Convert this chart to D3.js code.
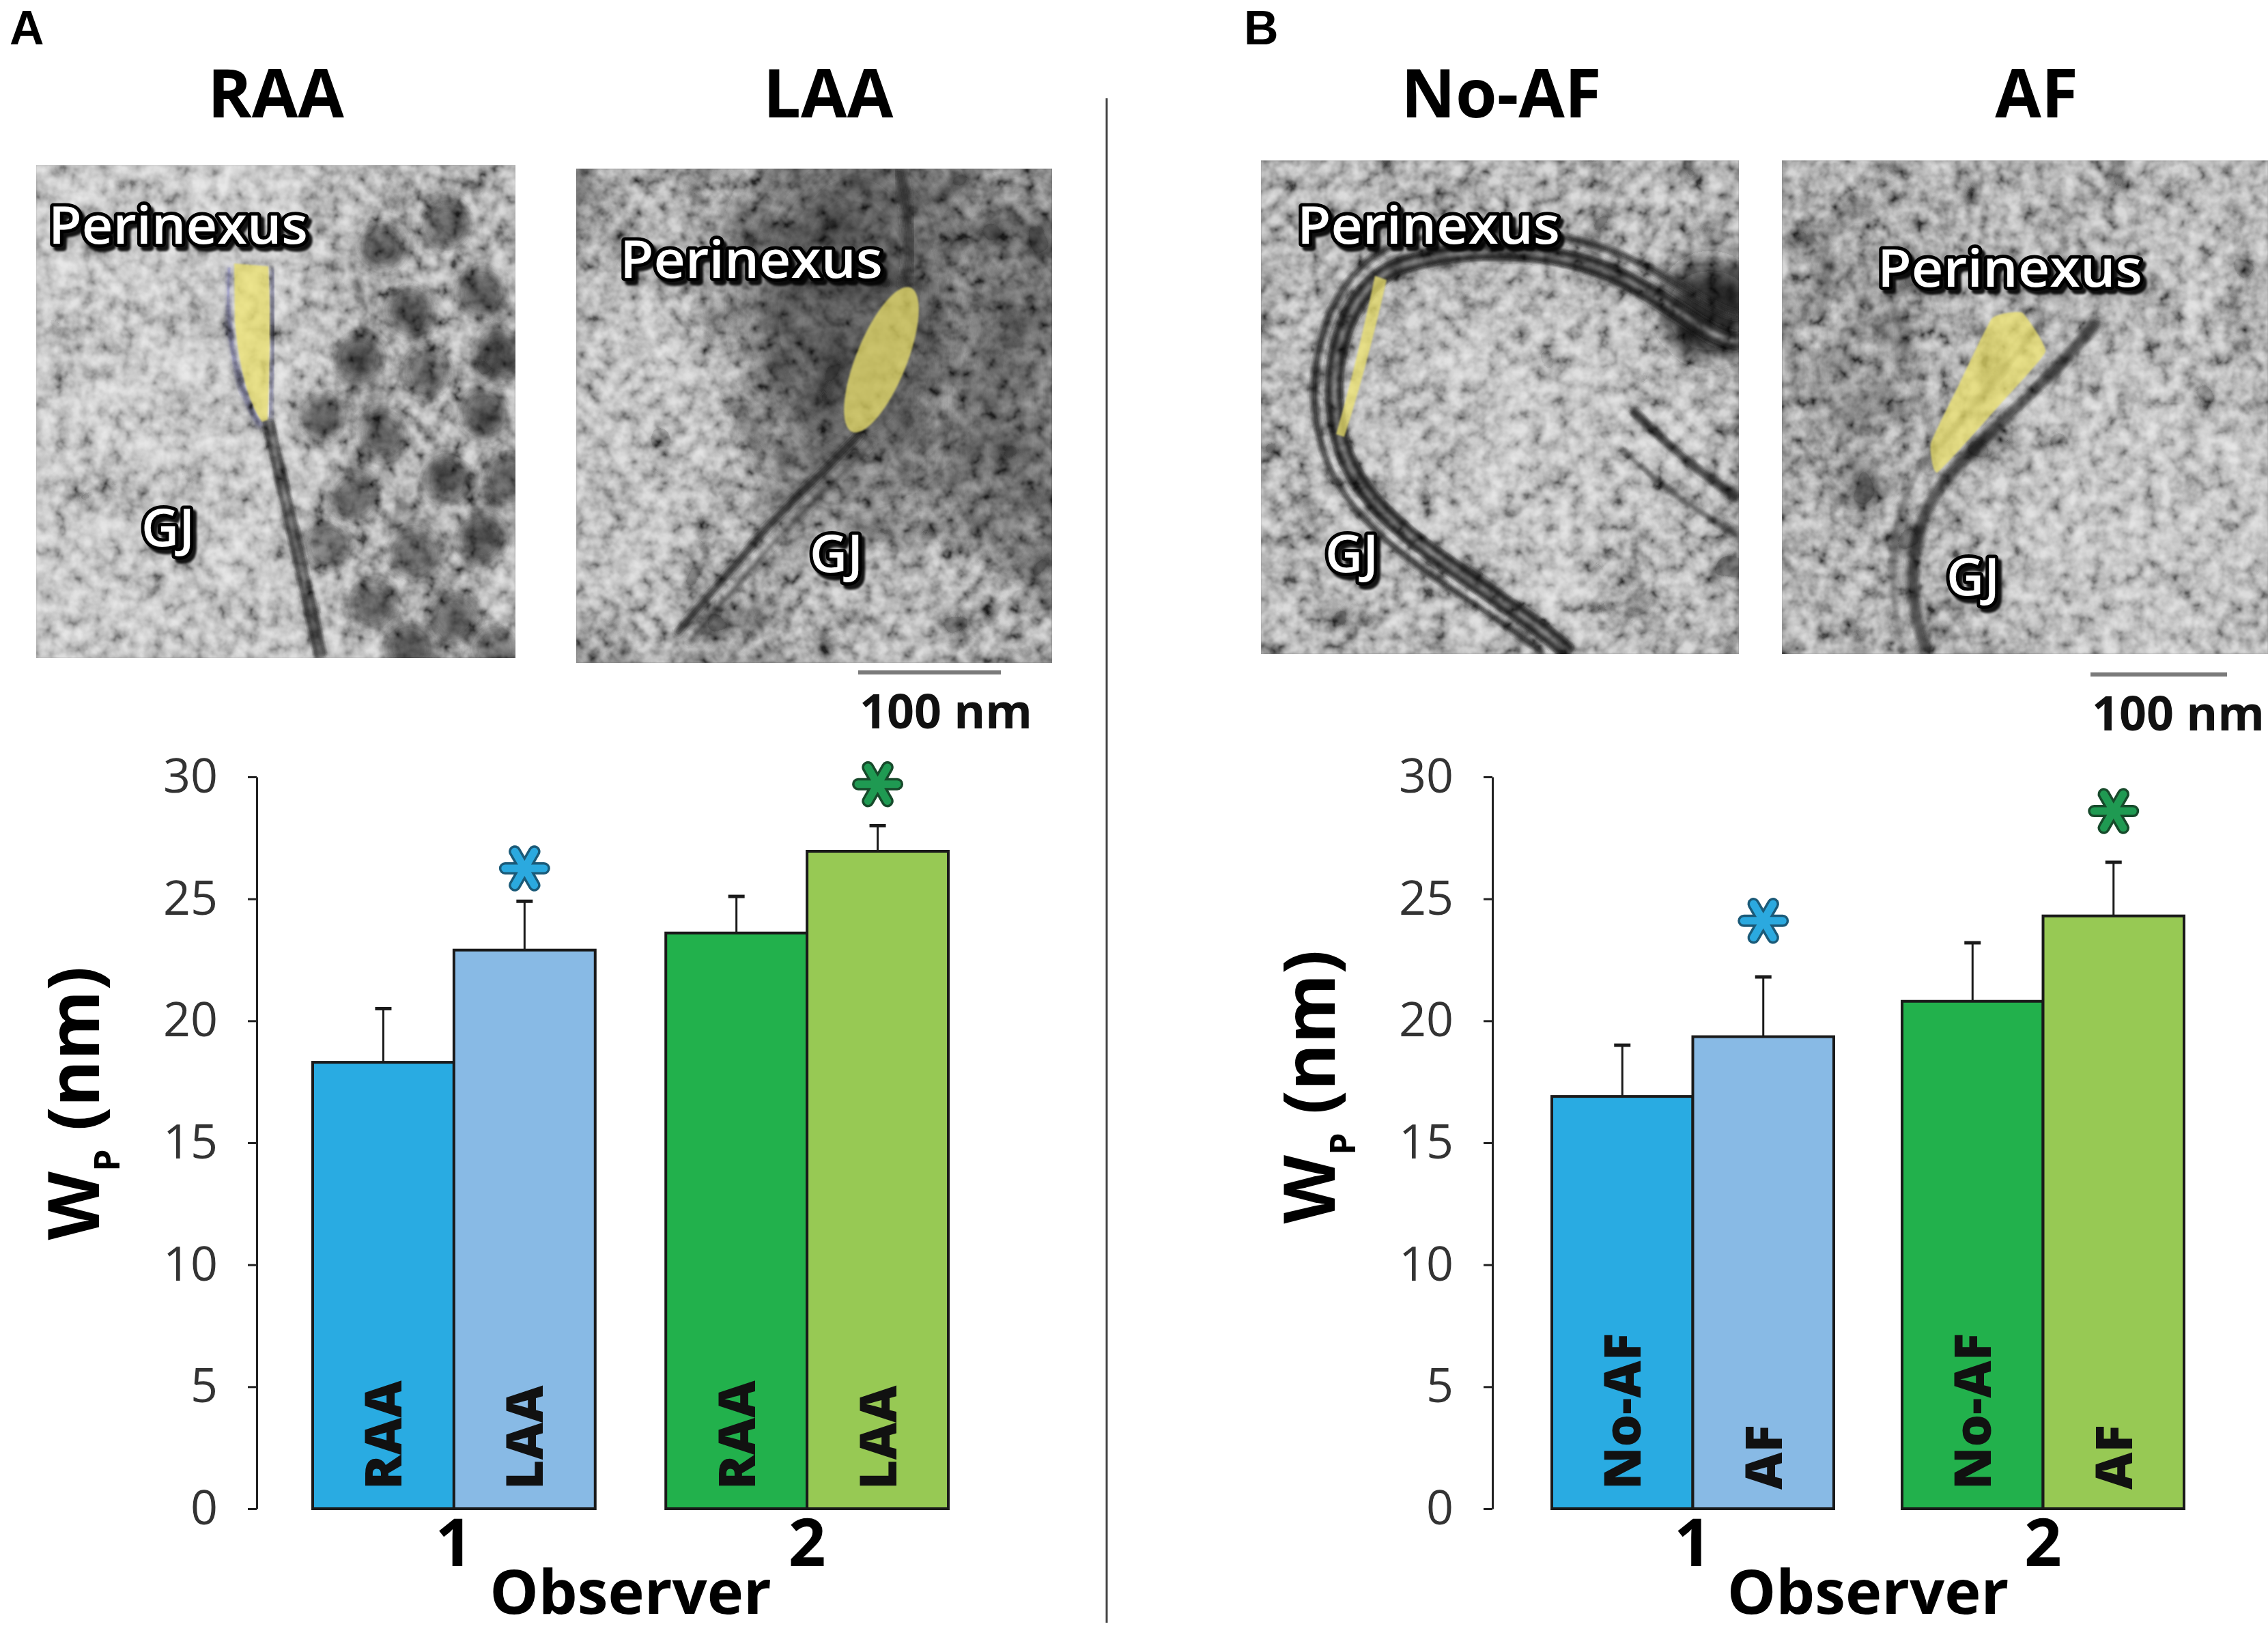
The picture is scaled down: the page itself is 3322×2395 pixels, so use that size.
<!DOCTYPE html>
<html>
<head>
<meta charset="utf-8">
<script src="https://cdn.jsdelivr.net/npm/d3@7"></script>
<style>
html, body { margin: 0; padding: 0; background: #fff; }
svg { display: block; }
</style>
</head>
<body>
<div id="chart"></div>
<script>
// ---- values ----
const observers = ["1", "2"];
const condA = ["RAA", "LAA"];
const meanA = [[18.3, 22.9], [23.6, 26.95]];   // [observer][condition]
const errA = [[2.2, 2.0], [1.5, 1.05]];
const sigA = [26.25, 29.7];                    // asterisk level per observer
const condB = ["No-AF", "AF"];
const meanB = [[16.9, 19.35], [20.8, 24.3]];
const errB = [[2.1, 2.45], [2.4, 2.2]];
const sigB = [24.1, 28.6];
const yTicks = [0, 5, 10, 15, 20, 25, 30];
const barColors = [["#29abe2", "#88bae5"], ["#22b14c", "#97c954"]];
const starColors = [["#2ba9df", "#1b5a78"], ["#1f9a52", "#174a2b"]];

const FONT = "'Open Sans', 'Noto Sans', sans-serif";
const width = 3322, height = 2395;

const svg = d3.select("#chart").append("svg")
    .attr("width", width).attr("height", height)
    .attr("viewBox", [0, 0, width, height]);
const defs = svg.append("defs");

const y = d3.scaleLinear().domain([0, 30]).range([2210, 1138]);

// ---------- micrographs (illustration only) ----------
const micrographs = [
  { x: 53, y: 242, w: 702, h: 722, base: "#a2a2a2", seed: 3,
    shades: [
      { cx: 625, cy: 600, rx: 170, ry: 440, fill: "#646464", op: 0.7, blur: 40 },
      { cx: 160, cy: 720, rx: 90, ry: 70, fill: "#7a7a7a", op: 0.55, blur: 30 },
      { cx: 300, cy: 910, rx: 120, ry: 60, fill: "#858585", op: 0.55, blur: 30 },
      { cx: 120, cy: 420, rx: 70, ry: 110, fill: "#8c8c8c", op: 0.5, blur: 30 }
    ],
    blobs: [[560,360],[655,330],[600,455],[705,430],[525,525],[625,545],[710,605],[560,635],
            [655,705],[520,730],[705,790],[605,810],[545,885],[665,905],[725,950],[470,610],
            [600,950],[480,800],[735,520],[745,700]],
    membranes: [
      { d: "M392,612 C410,700 440,820 470,964", stroke: "#1e1e1e", w: 20 },
      { d: "M392,612 C410,700 440,820 470,964", stroke: "#7a7a7a", w: 4 },
      { d: "M336,388 C330,470 340,560 382,625", stroke: "#3c3c52", w: 9 },
      { d: "M399,392 C400,460 400,540 396,612", stroke: "#3a3a4c", w: 8 }
    ],
    yellow: "M343,386 L393,390 C397,460 395,540 392,615 L384,618 C364,590 350,540 344,470 Z",
    labels: [{ t: "Perinexus", x: 71, y: 357, len: 380 }, { t: "GJ", x: 207, y: 800 }] },
  { x: 844, y: 247, w: 697, h: 724, base: "#5a5a5a", seed: 7,
    shades: [
      { cx: 925, cy: 660, rx: 150, ry: 290, fill: "#9c9c9c", op: 0.9, blur: 50 },
      { cx: 1330, cy: 890, rx: 230, ry: 100, fill: "#8e8e8e", op: 0.8, blur: 50 },
      { cx: 960, cy: 300, rx: 110, ry: 60, fill: "#888888", op: 0.7, blur: 40 },
      { cx: 1250, cy: 450, rx: 150, ry: 240, fill: "#303030", op: 0.8, blur: 45 },
      { cx: 1480, cy: 600, rx: 80, ry: 300, fill: "#3e3e3e", op: 0.7, blur: 40 }
    ],
    blobs: [],
    membranes: [
      { d: "M1262,632 C1210,690 1150,740 1100,800 S1030,880 990,930", stroke: "#1e1e1e", w: 11 },
      { d: "M1280,645 C1228,703 1168,753 1118,813 S1048,893 1008,943", stroke: "#333333", w: 7 },
      { d: "M1325,420 C1338,370 1330,310 1318,247", stroke: "#262626", w: 16 }
    ],
    yellowEllipse: { cx: 1291, cy: 527, rx: 37, ry: 114, rot: 22 },
    labels: [{ t: "Perinexus", x: 908, y: 407, len: 385 }, { t: "GJ", x: 1186, y: 838 }] },
  { x: 1847, y: 235, w: 700, h: 723, base: "#7c7c7c", seed: 11,
    shades: [
      { cx: 2230, cy: 700, rx: 260, ry: 260, fill: "#9c9c9c", op: 0.9, blur: 50 },
      { cx: 2505, cy: 455, rx: 75, ry: 75, fill: "#141414", op: 0.95, blur: 22 },
      { cx: 2400, cy: 830, rx: 30, ry: 90, fill: "#4e4e4e", op: 0.8, blur: 20 }
    ],
    blobs: [],
    membranes: [
      { d: "M2300,958 C2180,850 2000,780 1965,650 C1935,540 1970,420 2050,390 C2150,355 2300,360 2400,420 C2470,460 2510,500 2547,500", stroke: "#161616", w: 28 },
      { d: "M2300,958 C2180,850 2000,780 1965,650 C1935,540 1970,420 2050,390 C2150,355 2300,360 2400,420 C2470,460 2510,500 2547,500", stroke: "#5e5e5e", w: 6 },
      { d: "M2262,958 C2140,860 1972,792 1935,650 C1905,540 1945,400 2040,360 C2150,325 2310,330 2420,395 C2480,430 2520,460 2547,462", stroke: "#222222", w: 11 },
      { d: "M2390,600 C2450,660 2500,700 2547,730", stroke: "#282828", w: 15 },
      { d: "M2375,655 C2420,705 2480,745 2547,785", stroke: "#383838", w: 9 }
    ],
    yellow: "M2014,404 C2000,470 1982,550 1957,636 L1969,640 C1995,560 2015,480 2031,410 Z",
    labels: [{ t: "Perinexus", x: 1900, y: 357, len: 385 }, { t: "GJ", x: 1941, y: 838 }] },
  { x: 2610, y: 235, w: 712, h: 723, base: "#7a7a7a", seed: 19,
    shades: [
      { cx: 3150, cy: 760, rx: 220, ry: 230, fill: "#9e9e9e", op: 0.9, blur: 50 },
      { cx: 2720, cy: 520, rx: 120, ry: 260, fill: "#5c5c5c", op: 0.8, blur: 50 },
      { cx: 3250, cy: 350, rx: 80, ry: 110, fill: "#999999", op: 0.7, blur: 40 }
    ],
    blobs: [],
    membranes: [
      { d: "M2822,958 C2792,870 2792,770 2852,700 C2922,620 3002,560 3072,470", stroke: "#2e2e2e", w: 18 },
      { d: "M2790,958 C2760,860 2765,740 2825,670 C2885,600 2940,540 2990,470", stroke: "#4e4e4e", w: 10 }
    ],
    yellowPts: [[2918,466],[2962,458],[2996,515],[2930,592],[2838,692],[2828,650],[2870,562]],
    labels: [{ t: "Perinexus", x: 2750, y: 420, len: 388 }, { t: "GJ", x: 2851, y: 872 }] }
];

const shadow = defs.append("filter").attr("id", "txtshadow")
    .attr("x", "-10%").attr("y", "-30%").attr("width", "130%").attr("height", "170%");
shadow.append("feDropShadow").attr("dx", 5).attr("dy", 6).attr("stdDeviation", 1.5)
    .attr("flood-color", "#000").attr("flood-opacity", 0.9);

const blurCache = {};
function blurId(s) {
  if (!blurCache[s]) {
    blurCache[s] = "blur" + String(s).replace(".", "_");
    defs.append("filter").attr("id", blurCache[s])
        .attr("x", "-50%").attr("y", "-50%").attr("width", "200%").attr("height", "200%")
      .append("feGaussianBlur").attr("stdDeviation", s);
  }
  return "url(#" + blurCache[s] + ")";
}

micrographs.forEach((m, i) => {
  defs.append("clipPath").attr("id", "clip" + i)
    .append("rect").attr("x", m.x).attr("y", m.y).attr("width", m.w).attr("height", m.h);

  // grain noise, fine and coarse (softened a little with a blur)
  [["fine", 0.05, 4, 1.8, -0.4, 1.1], ["coarse", 0.016, 2, 1.8, -0.4, 0]].forEach(([name, freq, oct, slope, icp, bl]) => {
    const f = defs.append("filter").attr("id", name + i)
        .attr("filterUnits", "userSpaceOnUse")
        .attr("x", m.x).attr("y", m.y).attr("width", m.w).attr("height", m.h);
    f.append("feTurbulence").attr("type", "fractalNoise").attr("baseFrequency", freq)
        .attr("numOctaves", oct).attr("seed", m.seed + (name === "fine" ? 0 : 50));
    f.append("feColorMatrix").attr("type", "matrix")
        .attr("values", "1 0 0 0 0  1 0 0 0 0  1 0 0 0 0  0 0 0 0 1");
    const ct = f.append("feComponentTransfer");
    ["feFuncR", "feFuncG", "feFuncB"].forEach(fn =>
      ct.append(fn).attr("type", "linear").attr("slope", slope).attr("intercept", icp));
    if (bl) f.append("feGaussianBlur").attr("stdDeviation", bl);
  });

  const g = svg.append("g").attr("clip-path", "url(#clip" + i + ")")
      .style("isolation", "isolate");
  g.append("rect").attr("x", m.x).attr("y", m.y).attr("width", m.w).attr("height", m.h)
      .attr("fill", m.base);

  g.selectAll("ellipse.shade").data(m.shades).join("ellipse")
      .attr("cx", d => d.cx).attr("cy", d => d.cy).attr("rx", d => d.rx).attr("ry", d => d.ry)
      .attr("fill", d => d.fill).attr("opacity", d => d.op)
      .attr("filter", d => blurId(d.blur));

  g.selectAll("circle.blob").data(m.blobs).join("circle")
      .attr("cx", d => d[0]).attr("cy", d => d[1]).attr("r", 38)
      .attr("fill", "#2a2a2a").attr("opacity", 0.75).attr("filter", blurId(10));

  g.selectAll("path.mem").data(m.membranes).join("path")
      .attr("d", d => d.d).attr("fill", "none")
      .attr("stroke", d => d.stroke).attr("stroke-width", d => d.w)
      .attr("filter", blurId(3.5));

  g.append("rect").attr("x", m.x).attr("y", m.y).attr("width", m.w).attr("height", m.h)
      .attr("filter", "url(#coarse" + i + ")").attr("opacity", 0.35)
      .style("mix-blend-mode", "overlay");
  g.append("rect").attr("x", m.x).attr("y", m.y).attr("width", m.w).attr("height", m.h)
      .attr("filter", "url(#fine" + i + ")").attr("opacity", 0.65)
      .style("mix-blend-mode", "overlay");

  const yellowStyle = s => s.attr("fill", "#eee36a").attr("opacity", 0.72).attr("filter", blurId(1.2));
  if (m.yellow) g.append("path").attr("d", m.yellow).call(yellowStyle);
  if (m.yellowEllipse) {
    const e = m.yellowEllipse;
    g.append("ellipse").attr("cx", e.cx).attr("cy", e.cy).attr("rx", e.rx).attr("ry", e.ry)
        .attr("transform", `rotate(${e.rot},${e.cx},${e.cy})`).call(yellowStyle);
  }
  if (m.yellowPts) {
    g.append("path").attr("d", d3.line().curve(d3.curveCardinalClosed.tension(0.6))(m.yellowPts))
        .call(yellowStyle);
  }

  g.selectAll("text.lab").data(m.labels).join("text")
      .attr("x", d => d.x).attr("y", d => d.y)
      .attr("font-family", FONT).attr("font-size", 76).attr("font-weight", 600)
      .attr("fill", "#fff").attr("stroke", "#000").attr("stroke-width", 10)
      .attr("stroke-linejoin", "round").attr("paint-order", "stroke")
      .attr("filter", "url(#txtshadow)")
      .each(function(d) { if (d.len) d3.select(this).attr("textLength", d.len).attr("lengthAdjust", "spacingAndGlyphs"); })
      .text(d => d.t);
});

// ---------- titles, panel letters, scale bars, divider ----------
const titles = [
  { t: "RAA", x: 404 }, { t: "LAA", x: 1213 }, { t: "No-AF", x: 2199 }, { t: "AF", x: 2983 }
];
svg.selectAll("text.title").data(titles).join("text")
    .attr("x", d => d.x).attr("y", 172).attr("text-anchor", "middle")
    .attr("font-family", FONT).attr("font-weight", 700).attr("font-size", 98)
    .attr("fill", "#000").text(d => d.t);

svg.selectAll("text.panel").data([{ t: "A", x: 14 }, { t: "B", x: 1822 }]).join("text")
    .attr("x", d => d.x).attr("y", 65)
    .attr("font-family", "'Liberation Sans', Arial, sans-serif").attr("font-weight", 700)
    .attr("font-size", 70).attr("fill", "#000").text(d => d.t);

const scaleBars = [{ x1: 1257, x2: 1466, y: 985 }, { x1: 3062, x2: 3262, y: 988 }];
svg.selectAll("line.sbar").data(scaleBars).join("line")
    .attr("x1", d => d.x1).attr("x2", d => d.x2).attr("y1", d => d.y).attr("y2", d => d.y)
    .attr("stroke", "#7a7a7a").attr("stroke-width", 6);
svg.selectAll("text.sbar").data(scaleBars).join("text")
    .attr("x", d => d.x1 + 2).attr("y", d => d.y + 82)
    .attr("font-family", FONT).attr("font-weight", 700).attr("font-size", 70)
    .attr("fill", "#111").text("100 nm");

svg.append("line").attr("x1", 1621).attr("x2", 1621).attr("y1", 144).attr("y2", 2377)
    .attr("stroke", "#444").attr("stroke-width", 3);

// ---------- bar charts ----------
function drawChart(conds, means, errs, sig, layout) {
  const g = svg.append("g");
  const x0 = d3.scaleBand().domain(observers).range(layout.groupRange).paddingInner(layout.pad);
  const x1 = d3.scaleBand().domain(conds).range([0, x0.bandwidth()]);
  const bw = x1.bandwidth();

  const axis = g.append("g").attr("transform", `translate(${layout.axisX},0)`)
      .call(d3.axisLeft(y).tickValues(yTicks).tickSize(13).tickSizeOuter(0).tickPadding(44))
      .attr("font-family", FONT).attr("font-size", 70);
  axis.select(".domain").attr("stroke", "#222").attr("stroke-width", 3);
  axis.selectAll(".tick line").attr("stroke", "#222").attr("stroke-width", 3);
  axis.selectAll(".tick text").attr("fill", "#333");

  const rows = observers.flatMap((o, gi) => conds.map((c, ci) => ({
    o, gi, c, ci, v: means[gi][ci], e: errs[gi][ci],
    cx: x0(o) + x1(c) + bw / 2
  })));

  // error bars (upper only), drawn under the bars
  g.selectAll("line.whisker").data(rows).join("line")
      .attr("x1", d => d.cx).attr("x2", d => d.cx)
      .attr("y1", d => y(d.v)).attr("y2", d => y(d.v + d.e))
      .attr("stroke", "#1a1a1a").attr("stroke-width", 3);
  g.selectAll("line.cap").data(rows).join("line")
      .attr("x1", d => d.cx - 12).attr("x2", d => d.cx + 12)
      .attr("y1", d => y(d.v + d.e)).attr("y2", d => y(d.v + d.e))
      .attr("stroke", "#1a1a1a").attr("stroke-width", 5);

  g.selectAll("rect.bar").data(rows).join("rect")
      .attr("x", d => x0(d.o) + x1(d.c)).attr("width", bw)
      .attr("y", d => y(d.v)).attr("height", d => y(0) - y(d.v))
      .attr("fill", d => barColors[d.gi][d.ci])
      .attr("stroke", "#1a1a1a").attr("stroke-width", 4);

  g.selectAll("text.inbar").data(rows).join("text")
      .attr("transform", d => `translate(${d.cx},${y(0) - 28}) rotate(-90)`)
      .attr("dy", "0.36em")
      .attr("font-family", FONT).attr("font-weight", 800).attr("font-size", 75)
      .attr("fill", "#111").text(d => d.c);

  // significance asterisks above the second condition
  const stars = observers.map((o, gi) => ({ gi, cx: x0(o) + x1(conds[1]) + bw / 2, cy: y(sig[gi]) }));
  const star = d3.symbol(d3.symbolAsterisk, 2300);
  g.selectAll("path.starOut").data(stars).join("path")
      .attr("d", star).attr("transform", d => `translate(${d.cx},${d.cy}) rotate(90)`)
      .attr("fill", "none").attr("stroke", d => starColors[d.gi][1])
      .attr("stroke-width", 18).attr("stroke-linecap", "round");
  g.selectAll("path.starIn").data(stars).join("path")
      .attr("d", star).attr("transform", d => `translate(${d.cx},${d.cy}) rotate(90)`)
      .attr("fill", "none").attr("stroke", d => starColors[d.gi][0])
      .attr("stroke-width", 11).attr("stroke-linecap", "round");

  g.selectAll("text.obs").data(observers).join("text")
      .attr("x", d => x0(d) + x0.bandwidth() / 2).attr("y", 2294).attr("text-anchor", "middle")
      .attr("font-family", FONT).attr("font-weight", 700).attr("font-size", 96)
      .attr("fill", "#000").text(d => d);

  g.append("text")
      .attr("x", (layout.groupRange[0] + layout.groupRange[1]) / 2).attr("y", 2364)
      .attr("text-anchor", "middle")
      .attr("font-family", FONT).attr("font-weight", 700).attr("font-size", 90)
      .attr("fill", "#000").text("Observer");

  const yl = g.append("text")
      .attr("transform", `translate(${layout.labelX},${layout.labelY}) rotate(-90)`)
      .attr("text-anchor", "middle")
      .attr("font-family", FONT).attr("font-weight", 700).attr("font-size", 104)
      .attr("fill", "#000");
  yl.append("tspan").text("W");
  yl.append("tspan").attr("dy", 30).attr("font-size", 52).text("P");
  yl.append("tspan").attr("dy", -30).text(" (nm)");
}

drawChart(condA, meanA, errA, sigA, { axisX: 376, groupRange: [458, 1389], pad: 0.2, labelX: 145, labelY: 1616 });
drawChart(condB, meanB, errB, sigB, { axisX: 2186, groupRange: [2273, 3199], pad: 0.195, labelX: 1955, labelY: 1592 });
</script>
</body>
</html>
